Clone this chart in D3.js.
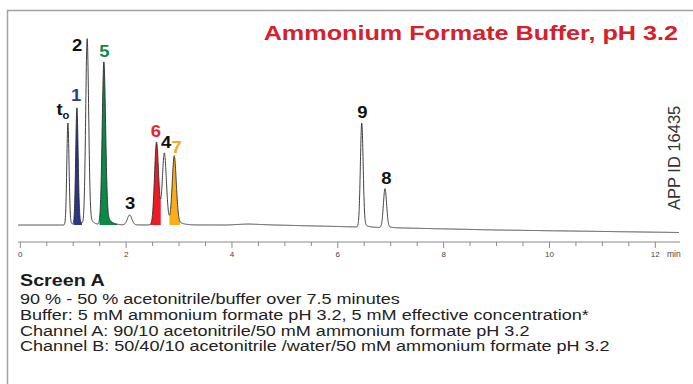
<!DOCTYPE html>
<html>
<head>
<meta charset="utf-8">
<script src="https://cdn.jsdelivr.net/npm/d3@7"></script>
<style>
body { margin: 0; background: #fff; }
svg { display: block; font-family: "Liberation Sans", Arial, Helvetica, sans-serif; }
</style>
</head>
<body>
<div id="chart"></div>
<script>
// peak table (time in min, height in detector units)
var peakLabels = ["t", "1", "2", "5", "3", "6", "4", "7", "9", "8"];
var peakTimes = [0.90, 1.07, 1.264, 1.58, 2.066, 2.575, 2.723, 2.91, 6.453, 6.892];
var peakHeights = [102, 117, 186, 163, 10, 83, 70, 68, 104, 39];
var peakWidths = [0.021, 0.023, 0.028, 0.032, 0.042, 0.038, 0.038, 0.038, 0.026, 0.030];
var peakTails = [0.05, 0.08, 0.08, 0.12, 0.05, 0.12, 0.10, 0.10, 0.06, 0.06];

// shaded peaks (integration windows)
var filledPeaks = ["1", "5", "6", "7"];
var fillStarts = [1.006, 1.496, 2.453, 2.817];
var fillEnds = [1.164, 1.83, 2.655, 3.019];

// baseline drift
var driftTimes = [0, 3.9, 4.3, 4.8, 6.8, 9.0, 12.45];
var driftValues = [0, 0, 1, 0, -2.5, -5, -7.5];

var tickLabels = [0, 2, 4, 6, 8, 10, 12];

var notes = [
    "90 % - 50 % acetonitrile/buffer over 7.5 minutes",
    "Buffer: 5 mM ammonium formate pH 3.2, 5 mM effective concentration*",
    "Channel A: 90/10 acetonitrile/50 mM ammonium formate pH 3.2",
    "Channel B: 50/40/10 acetonitrile /water/50 mM ammonium formate pH 3.2"
];

var colors = { "1": "#2a3689", "5": "#0b8a47", "6": "#ec1c24", "7": "#f9ad19" };
var labelColors = { "1": "#2d3c92", "5": "#11894c", "6": "#ec2227", "7": "#f6a81c" };
// label offsets from the apex, px
var labelNudge = {
    "t": [-5, -8], "1": [-0.7, -7], "2": [-10, 12], "5": [0.5, -5], "3": [0.5, -6],
    "6": [-0.8, -5], "4": [1.7, -4.5], "7": [2.4, -3], "9": [0.7, -5], "8": [1.4, -5]
};

var width = 693, height = 384;
var stretch = 1.2; // the print type is set wide

var svg = d3.select("#chart").append("svg")
    .attr("width", width)
    .attr("height", height);

// frame
svg.append("path")
    .attr("d", "M7.5," + height + "V10.5H" + width)
    .attr("fill", "none")
    .attr("stroke", "#a3a3a3")
    .attr("stroke-width", 1.5);

var x = d3.scaleLinear().domain([0, 12]).range([20.3, 655.3]);
var y = d3.scaleLinear().domain([0, 200]).range([225, 25]);
var drift = d3.scaleLinear().domain(driftTimes).range(driftValues).clamp(true);

function peakShape(t, i) {
    var dx = t - peakTimes[i];
    var s = peakWidths[i];
    var g = Math.exp(-0.5 * (dx / s) * (dx / s));
    if (dx <= 0) return peakHeights[i] * g;
    var a = peakTails[i];
    return peakHeights[i] * ((1 - a) * g + a * Math.exp(-dx / (2.5 * s)));
}

function signal(t) {
    var v = drift(t);
    for (var i = 0; i < peakTimes.length; i++) v += peakShape(t, i);
    return v;
}

var times = d3.range(-0.04, 12.45, 0.002);
var trace = times.map(function (t) { return { t: t, v: signal(t) }; });

// filled peaks
filledPeaks.forEach(function (name, k) {
    var pts = trace.filter(function (d) { return d.t >= fillStarts[k] && d.t <= fillEnds[k]; });
    var area = d3.area()
        .x(function (d) { return x(d.t); })
        .y0(function (d) { return y(drift(d.t)); })
        .y1(function (d) { return y(d.v); });
    svg.append("path")
        .datum(pts)
        .attr("fill", colors[name])
        .attr("d", area);
});

// trace
var line = d3.line()
    .x(function (d) { return x(d.t); })
    .y(function (d) { return y(d.v); });
svg.append("path")
    .datum(trace)
    .attr("fill", "none")
    .attr("stroke", "#2b2b2b")
    .attr("stroke-width", 0.9)
    .attr("d", line);

// peak labels
peakLabels.forEach(function (name, i) {
    var apex = signal(peakTimes[i]);
    var n = labelNudge[name];
    var txt = svg.append("text")
        .attr("transform", "translate(" + (x(peakTimes[i]) + n[0]) + "," + (y(apex) + n[1]) + ") scale(1.12,1)")
        .attr("text-anchor", "middle")
        .attr("font-size", 16.5)
        .attr("font-weight", "bold")
        .attr("fill", labelColors[name] || "#111")
        .text(name);
    if (name === "t") {
        txt.append("tspan")
            .attr("font-size", 10)
            .attr("dy", 4)
            .text("o");
    }
});

// time axis
var axisY = 242;
var axisG = svg.append("g").attr("transform", "translate(0," + axisY + ")");
axisG.append("line")
    .attr("x1", 18).attr("x2", 680)
    .attr("stroke", "#8a8a8a").attr("stroke-width", 1);
axisG.selectAll(".minor")
    .data(d3.range(0, 12.01, 0.5))
    .enter().append("line")
    .attr("x1", function (d) { return x(d); })
    .attr("x2", function (d) { return x(d); })
    .attr("y1", 0)
    .attr("y2", function (d) { return tickLabels.indexOf(d) >= 0 ? 6 : 4; })
    .attr("stroke", "#8a8a8a").attr("stroke-width", 1);
axisG.selectAll(".lab")
    .data(tickLabels)
    .enter().append("text")
    .attr("x", function (d) { return x(d); })
    .attr("y", 15)
    .attr("text-anchor", "middle")
    .attr("font-size", 8)
    .attr("fill", "#444")
    .text(function (d) { return d; });
axisG.append("text")
    .attr("x", 667).attr("y", 15)
    .attr("font-size", 8.5)
    .attr("fill", "#444")
    .text("min");

// title
svg.append("text")
    .attr("transform", "translate(678,40) scale(" + stretch + ",1)")
    .attr("text-anchor", "end")
    .attr("font-size", 21)
    .attr("font-weight", "bold")
    .attr("fill", "#d6202b")
    .text("Ammonium Formate Buffer, pH 3.2");

svg.append("text")
    .attr("transform", "translate(680,210) rotate(-90)")
    .attr("font-size", 16.5)
    .attr("fill", "#333")
    .text("APP ID 16435");

// method notes
svg.append("text")
    .attr("transform", "translate(20,286) scale(1.16,1)")
    .attr("font-size", 17)
    .attr("font-weight", "bold")
    .attr("fill", "#1a1a1a")
    .text("Screen A");
svg.selectAll(".note")
    .data(notes)
    .enter().append("text")
    .attr("transform", function (d, i) {
        return "translate(20," + (304 + i * 15.8) + ") scale(1.165,1)";
    })
    .attr("font-size", 15.5)
    .attr("fill", "#222")
    .text(function (d) { return d; });
</script>
</body>
</html>
